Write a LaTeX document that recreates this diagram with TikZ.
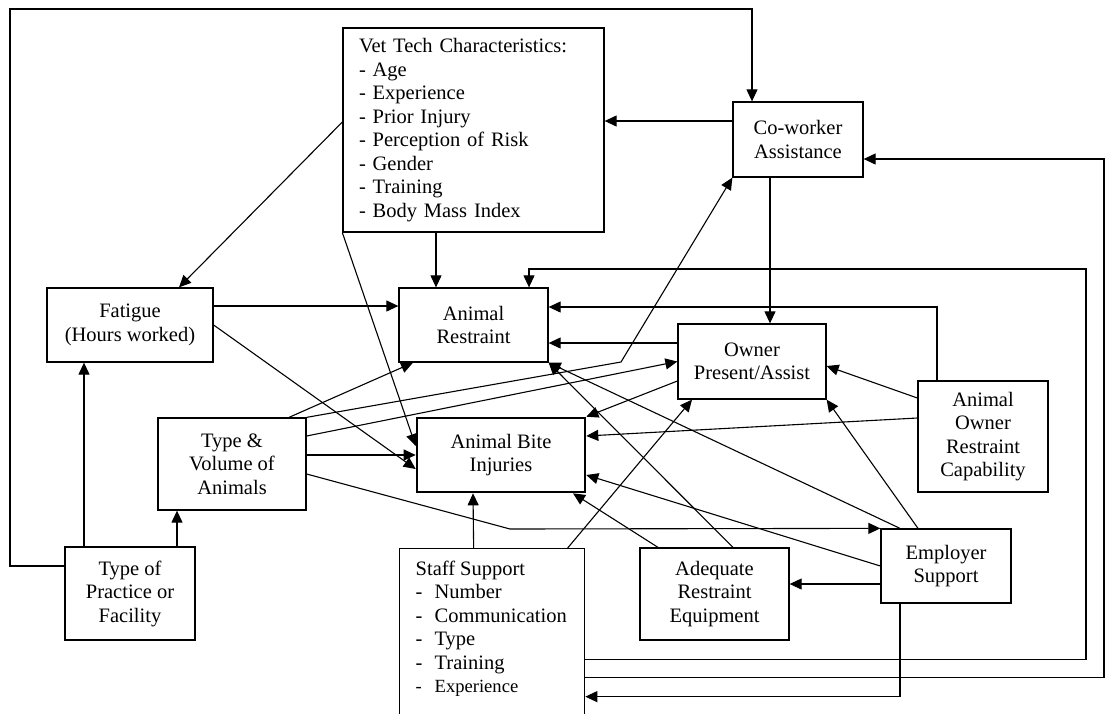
\documentclass[tikz,border=0pt]{standalone}
\usepackage{fontspec}
\setmainfont{Liberation Serif}
\usetikzlibrary{arrows.meta}
\tikzset{
	box/.style={draw, line width=1.3pt, align=center, inner sep=0pt},
	arr/.style={line width=1.1pt, -{Triangle[length=12pt,width=11pt]}},
}

\begin{document}
\begin{tikzpicture}[x=1pt, y=-1pt, font=\fontsize{20.5}{23.5}\selectfont]
		\useasboundingbox (0,0) rectangle (1105,713);
		\clip (0,0) rectangle (1105,713);

		\node[box, minimum width=261pt, minimum height=204pt, text width=229pt, align=left] (vet) at (473.5,130) {Vet Tech Characteristics:\\- Age\\- Experience\\- Prior Injury\\- Perception of Risk\\- Gender\\- Training\\- Body Mass Index};
		\node[box, minimum width=130pt, minimum height=75pt] (cowork) at (798,139.5) {Co-worker\\Assistance};
		\node[box, minimum width=166pt, minimum height=74pt] (fatigue) at (130,325) {Fatigue\\(Hours worked)};
		\node[box, minimum width=149pt, minimum height=74pt] (restr) at (473.5,325) {Animal\\Restraint};
		\node[box, minimum width=148pt, minimum height=75pt] (owner) at (752,361.5) {Owner\\Present/Assist};
		\node[box, line width=2.6pt, minimum width=168pt, minimum height=74pt] (bite) at (501,455) {Animal Bite\\Injuries};
		\node[box, minimum width=148pt, minimum height=92pt] (typevol) at (232,464) {Type \&\\Volume of\\Animals};
		\node[box, minimum width=130pt, minimum height=111pt] (aorc) at (983,436.5) {Animal\\Owner\\Restraint\\Capability};
		\node[box, minimum width=130pt, minimum height=93pt] (practice) at (130,593.5) {Type of\\Practice or\\Facility};
		\node[box, minimum width=149pt, minimum height=92pt] (adequate) at (714.5,594) {Adequate\\Restraint\\Equipment};
		\node[box, minimum width=130pt, minimum height=74pt] (employer) at (946,566) {Employer\\Support};
		\node[box, anchor=north west, inner xsep=16pt, inner ysep=12pt, align=left] (staff) at (399,548) {\parbox[c][188pt][t]{153pt}{Staff Support\\\makebox[19pt][l]{-}Number\\\makebox[19pt][l]{-}Communication\\\makebox[19pt][l]{-}Type\\\makebox[19pt][l]{-}Training\\{\fontsize{18.6}{23.5}\selectfont\makebox[19pt][l]{-}Experience}}};

		\coordinate (topleft) at (10,9);
		\coordinate (kink) at (621,362);
		\coordinate (bend) at (510,529);
		\coordinate (rightin) at (1086,400);
		\coordinate (rightout) at (1104,400);
		\coordinate (artop) at (529,269);

		% long loops round the outside
		\draw[arr] ([yshift=27.5pt]practice.west) -| (topleft) -| ([xshift=-46pt]cowork.north);
		\draw[arr] ([yshift=-23pt]staff.east) -| (rightout) |- ([yshift=-19.5pt]cowork.east);
		\draw[arr] ([yshift=-5pt]staff.east) -| (rightin) |- (artop) -- ([xshift=55.5pt]restr.north);
		\draw[arr] ([xshift=-46pt]employer.south) |- ([yshift=-42pt]staff.east);

		\draw[arr] ([yshift=8pt]vet.west) -- ([xshift=49pt]fatigue.north);
		\draw[arr] (vet.south west) -- ([yshift=9pt]bite.west);
		\draw[arr] ([xshift=-37.5pt]vet.south) -- ([xshift=-37.5pt]restr.north);
		\draw[arr] ([yshift=18.5pt]cowork.west) -- ([yshift=9pt]vet.east);
		\draw[arr] ([xshift=-28pt]cowork.south) -- ([xshift=18pt]owner.north);

		\draw[arr] ([xshift=-46pt]practice.north) -- ([xshift=-46pt]fatigue.south);
		\draw[arr] ([xshift=47pt]practice.north) -- ([xshift=-55pt]typevol.south);
		\draw[arr] ([yshift=19pt]fatigue.east) -- ([yshift=19pt]restr.west);
		\draw[arr] (fatigue.east) -- ([yshift=-14pt]bite.west);

		\draw[arr] ([xshift=57pt]typevol.north) -- ([xshift=-60.5pt]restr.south);
		\draw[arr] (typevol.north east) -- (kink) -- (cowork.south west);
		\draw[arr] ([yshift=28pt]typevol.east) -- (owner.west);
		\draw[arr] ([yshift=9pt]typevol.east) -- (bite.west);
		\draw[arr] ([yshift=-10pt]typevol.east) -- (bend) -- (employer.north west);

		\draw[arr] ([yshift=18.5pt]owner.west) -- ([yshift=-18pt]restr.east);
		\draw[arr] ([yshift=-19.5pt]owner.west) -- (bite.north east);
		\draw[arr] ([xshift=-46pt]aorc.north) |- ([yshift=18pt]restr.east);
		\draw[arr] ([yshift=38.5pt]aorc.west) -- ([yshift=-4.5pt]owner.east);
		\draw[arr] ([yshift=18.5pt]aorc.west) -- ([yshift=19pt]bite.east);

		\draw[arr] ([xshift=-46pt]employer.north) -- (restr.south east);
		\draw[arr] ([xshift=-28pt]employer.north) -- (owner.south east);
		\draw[arr] (employer.west) -- ([yshift=-20pt]bite.east);
		\draw[arr] ([yshift=-18pt]employer.west) -- ([yshift=10pt]adequate.east);
		\draw[arr] ([xshift=-56.5pt]adequate.north) -- ([xshift=72pt]bite.south);
		\draw[arr] ([xshift=18.5pt]adequate.north) -- (restr.south east);
		\draw[arr] ([xshift=-18.5pt]staff.north) -- ([xshift=-28pt]bite.south);
		\draw[arr] ([xshift=75.5pt]staff.north) -- ([xshift=-60pt]owner.south);
	\end{tikzpicture}
\end{document}
